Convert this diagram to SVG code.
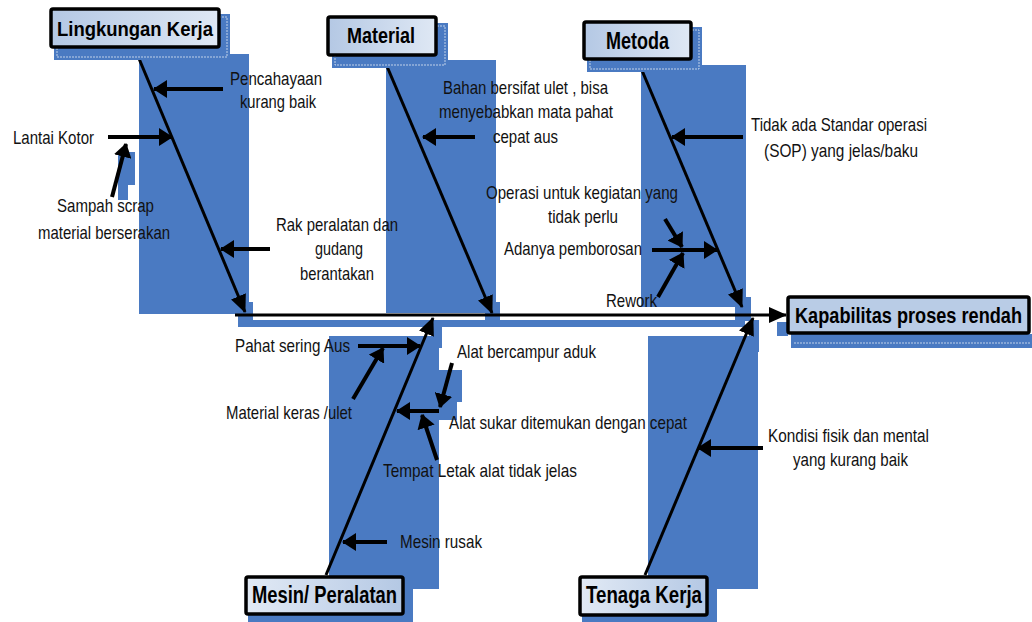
<svg xmlns="http://www.w3.org/2000/svg" width="1032" height="622" viewBox="0 0 1032 622">
<defs>
<linearGradient id="gL" x1="0" y1="0" x2="1" y2="0"><stop offset="0" stop-color="#b4c8e4"/><stop offset="1" stop-color="#dfe8f4"/></linearGradient>
<linearGradient id="gR" x1="0" y1="0" x2="1" y2="0"><stop offset="0" stop-color="#e2eaf5"/><stop offset="1" stop-color="#b4c8e4"/></linearGradient>
<marker id="ah" markerUnits="userSpaceOnUse" viewBox="0 0 14 18" markerWidth="14" markerHeight="18" refX="13" refY="9" orient="auto"><path d="M0,0 L14,9 L0,18 z" fill="#000"/></marker>
<marker id="am" markerUnits="userSpaceOnUse" viewBox="0 0 18 16" markerWidth="18" markerHeight="16" refX="17" refY="8" orient="auto"><path d="M0,0 L18,8 L0,16 z" fill="#000"/></marker>
</defs>
<style>
.blue{fill:#4a7ac2}
.shd{fill:#4a7ac2;stroke:none}
.dash{fill:none;stroke:#dfe8f4;stroke-width:0.8;stroke-dasharray:2 1}
.box{stroke:#000;stroke-width:3.5}
.t{font-family:"Liberation Sans Narrow","Liberation Sans",Arial,sans-serif;font-size:18.5px;fill:#111}
.b{font-family:"Liberation Sans Narrow","Liberation Sans",Arial,sans-serif;font-weight:bold;fill:#000}
.bone{stroke:#000;stroke-width:3;fill:none;marker-end:url(#am)}
.sub{stroke:#000;stroke-width:4;fill:none;marker-end:url(#ah)}
</style>

<g id="backgrounds">
<rect class="blue" x="139" y="54" width="110" height="260"/>
<rect class="blue" x="118" y="152" width="17" height="33"/>
<rect class="blue" x="118" y="185" width="10" height="15"/>
<rect class="blue" x="238" y="302" width="15" height="23"/>
<rect class="blue" x="238" y="320" width="507" height="7"/>
<rect class="blue" x="386" y="60" width="110" height="253"/>
<rect class="blue" x="485" y="302" width="15" height="21"/>
<rect class="blue" x="433" y="322" width="9" height="26"/>
<rect class="blue" x="641" y="65" width="105" height="242"/>
<rect class="blue" x="735" y="297" width="16" height="24"/>
<rect class="blue" x="329" y="336" width="110" height="253"/>
<rect class="blue" x="439" y="370" width="23" height="32"/>
<rect class="blue" x="439" y="402" width="18" height="18"/>
<rect class="blue" x="648" y="336" width="110" height="253"/>
<rect class="blue" x="749" y="320" width="10" height="32"/>
<rect class="blue" x="777" y="322" width="11" height="14"/>
</g>

<g id="connectors">
<line class="bone" x1="235" y1="315" x2="786" y2="315"/>
<line class="bone" x1="135" y1="49" x2="245" y2="312"/>
<line class="bone" x1="383" y1="57" x2="492" y2="313"/>
<line class="bone" x1="638" y1="61" x2="742" y2="307"/>
<line class="bone" x1="326" y1="575" x2="433" y2="318"/>
<line class="bone" x1="645" y1="575" x2="753" y2="318"/>
<line class="sub" x1="223" y1="89" x2="154" y2="89"/>
<line class="sub" x1="108" y1="137" x2="172" y2="137"/>
<line class="sub" x1="112" y1="197" x2="126" y2="144"/>
<line class="sub" x1="270" y1="249" x2="221" y2="249"/>
<line class="sub" x1="475" y1="137" x2="423" y2="137"/>
<line class="sub" x1="743" y1="137" x2="672" y2="137"/>
<line class="sub" x1="652" y1="250" x2="717" y2="250"/>
<line class="sub" x1="665" y1="219" x2="682" y2="247"/>
<line class="sub" x1="658" y1="297" x2="683" y2="253"/>
<line class="sub" x1="358" y1="346" x2="420" y2="346"/>
<line class="sub" x1="353" y1="399" x2="383" y2="348"/>
<line class="sub" x1="452" y1="363" x2="440" y2="407"/>
<line class="sub" x1="439" y1="411" x2="397" y2="411"/>
<line class="sub" x1="437" y1="460" x2="422" y2="415"/>
<line class="sub" x1="387" y1="542" x2="343" y2="542"/>
<line class="sub" x1="763" y1="448" x2="698" y2="448"/>
</g>

<g id="labels">
<text class="t" x="230" y="85" textLength="92" lengthAdjust="spacingAndGlyphs">Pencahayaan</text>
<text class="t" x="240" y="108" textLength="76" lengthAdjust="spacingAndGlyphs">kurang baik</text>
<text class="t" x="13" y="144" textLength="81" lengthAdjust="spacingAndGlyphs">Lantai Kotor</text>
<text class="t" x="57" y="212" textLength="97" lengthAdjust="spacingAndGlyphs">Sampah scrap</text>
<text class="t" x="38" y="239" textLength="132" lengthAdjust="spacingAndGlyphs">material berserakan</text>
<text class="t" x="276" y="231" textLength="122" lengthAdjust="spacingAndGlyphs">Rak peralatan dan</text>
<text class="t" x="315" y="255" textLength="48" lengthAdjust="spacingAndGlyphs">gudang</text>
<text class="t" x="300" y="280" textLength="74" lengthAdjust="spacingAndGlyphs">berantakan</text>
<text class="t" x="443" y="94" textLength="165" lengthAdjust="spacingAndGlyphs">Bahan bersifat ulet , bisa</text>
<text class="t" x="439" y="118" textLength="174" lengthAdjust="spacingAndGlyphs">menyebabkan mata pahat</text>
<text class="t" x="493" y="143" textLength="65" lengthAdjust="spacingAndGlyphs">cepat aus</text>
<text class="t" x="751" y="131" textLength="176" lengthAdjust="spacingAndGlyphs">Tidak ada Standar operasi</text>
<text class="t" x="764" y="157" textLength="154" lengthAdjust="spacingAndGlyphs">(SOP) yang jelas/baku</text>
<text class="t" x="486" y="199" textLength="192" lengthAdjust="spacingAndGlyphs">Operasi untuk kegiatan yang</text>
<text class="t" x="548" y="223" textLength="70" lengthAdjust="spacingAndGlyphs">tidak perlu</text>
<text class="t" x="504" y="255" textLength="138" lengthAdjust="spacingAndGlyphs">Adanya pemborosan</text>
<text class="t" x="606" y="307" textLength="51" lengthAdjust="spacingAndGlyphs">Rework</text>
<text class="t" x="235" y="352" textLength="115" lengthAdjust="spacingAndGlyphs">Pahat sering Aus</text>
<text class="t" x="226" y="419" textLength="126" lengthAdjust="spacingAndGlyphs">Material keras /ulet</text>
<text class="t" x="457" y="358" textLength="139" lengthAdjust="spacingAndGlyphs">Alat bercampur aduk</text>
<text class="t" x="449" y="429" textLength="238" lengthAdjust="spacingAndGlyphs">Alat sukar ditemukan dengan cepat</text>
<text class="t" x="383" y="477" textLength="194" lengthAdjust="spacingAndGlyphs">Tempat Letak alat tidak jelas</text>
<text class="t" x="400" y="548" textLength="82" lengthAdjust="spacingAndGlyphs">Mesin rusak</text>
<text class="t" x="768" y="442" textLength="161" lengthAdjust="spacingAndGlyphs">Kondisi fisik dan mental</text>
<text class="t" x="793" y="466" textLength="115" lengthAdjust="spacingAndGlyphs">yang kurang baik</text>
</g>

<g id="node-lingkungan">
<rect class="shd" x="54" y="14" width="176" height="46"/>
<rect class="dash" x="57" y="17" width="170" height="40"/>
<rect class="box" x="51" y="9" width="168" height="38" rx="2" fill="url(#gL)"/>
<text class="b" x="57" y="36" font-size="21" textLength="156" lengthAdjust="spacingAndGlyphs">Lingkungan Kerja</text>
</g>
<g id="node-material">
<rect class="shd" x="332" y="23" width="116" height="45"/>
<rect class="dash" x="335" y="26" width="110" height="39"/>
<rect class="box" x="328" y="17" width="108" height="38" rx="2" fill="url(#gL)"/>
<text class="b" x="347" y="43" font-size="22" textLength="68" lengthAdjust="spacingAndGlyphs">Material</text>
</g>
<g id="node-metoda">
<rect class="shd" x="587" y="27" width="115" height="45"/>
<rect class="dash" x="590" y="30" width="109" height="39"/>
<rect class="box" x="584" y="22" width="107" height="37" rx="2" fill="url(#gL)"/>
<text class="b" x="606" y="49" font-size="24" textLength="63" lengthAdjust="spacingAndGlyphs">Metoda</text>
</g>
<g id="node-kapabilitas">
<rect class="shd" x="791" y="334" width="241" height="14"/>
<line x1="794" y1="343" x2="1030" y2="343" stroke="#dfe8f4" stroke-width="0.8" stroke-dasharray="2 1"/>
<rect class="box" x="788" y="297" width="241" height="36" rx="2" fill="#b9cce6"/>
<text class="b" transform="translate(795,323) scale(1,1.2)" x="0" y="0" font-size="18" textLength="227" lengthAdjust="spacingAndGlyphs">Kapabilitas proses rendah</text>
</g>
<g id="node-mesin">
<rect class="shd" x="248" y="588" width="165" height="34"/>
<rect class="box" x="246" y="577" width="157" height="37" rx="2" fill="url(#gR)"/>
<text class="b" x="252" y="603" font-size="23" textLength="145" lengthAdjust="spacingAndGlyphs">Mesin/ Peralatan</text>
</g>
<g id="node-tenaga">
<rect class="shd" x="582" y="588" width="135" height="34"/>
<rect class="box" x="580" y="577" width="127" height="38" rx="2" fill="url(#gR)"/>
<text class="b" x="586" y="603" font-size="23" textLength="116" lengthAdjust="spacingAndGlyphs">Tenaga Kerja</text>
</g>
</svg>
